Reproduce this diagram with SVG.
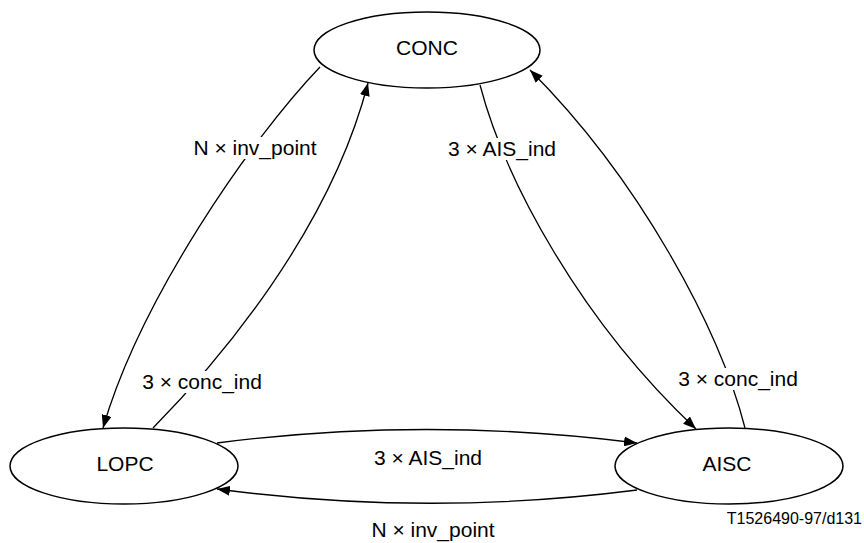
<svg xmlns="http://www.w3.org/2000/svg" width="864" height="543" viewBox="0 0 864 543">
<style>
.node{fill:#fff;stroke:#000;stroke-width:1.5}
.lbl{font-family:"Liberation Sans",Arial,sans-serif;font-size:21px;fill:#000;text-anchor:middle}
.edge{fill:none;stroke:#000;stroke-width:1.3}
.bg{fill:#fff;stroke:none}
.ref{font-family:"Liberation Sans",Arial,sans-serif;font-size:16px;fill:#000}
</style>
<defs>
<marker id="arr" markerUnits="userSpaceOnUse" markerWidth="14" markerHeight="10" refX="13" refY="5" orient="auto">
<path d="M0,0 L13,5 L0,10 Z" fill="#000"/>
</marker>
</defs>
<rect width="864" height="543" fill="#fff"/>
<g id="connectors">
<path class="edge" d="M320,67 C250,140 140,300 103,428" marker-end="url(#arr)"/>
<path class="edge" d="M153,428 C220,360 330,230 368,83" marker-end="url(#arr)"/>
<path class="edge" d="M480,85 C505,180 580,320 696,429" marker-end="url(#arr)"/>
<path class="edge" d="M745,428 C720,330 640,180 530,70" marker-end="url(#arr)"/>
<path class="edge" d="M217,443 Q427,416 637,443" marker-end="url(#arr)"/>
<path class="edge" d="M637,490 Q427,517 217,489" marker-end="url(#arr)"/>
<rect class="bg" x="191" y="137" width="128" height="22"/>
<text class="lbl" x="255" y="155">N × inv_point</text>
<rect class="bg" x="446" y="138" width="113" height="22"/>
<text class="lbl" x="502" y="156">3 × AIS_ind</text>
<rect class="bg" x="140" y="371" width="124" height="22"/>
<text class="lbl" x="202" y="389">3 × conc_ind</text>
<rect class="bg" x="676" y="368" width="124" height="22"/>
<text class="lbl" x="738" y="386">3 × conc_ind</text>
<text class="lbl" x="428" y="465">3 × AIS_ind</text>
<text class="lbl" x="433" y="537">N × inv_point</text>
</g>
<g id="CONC">
<ellipse class="node" cx="427" cy="50" rx="113" ry="38"/>
<text class="lbl" x="427" y="55">CONC</text>
</g>
<g id="LOPC">
<ellipse class="node" cx="124" cy="466" rx="114" ry="38"/>
<text class="lbl" x="125" y="471">LOPC</text>
</g>
<g id="AISC">
<ellipse class="node" cx="729" cy="466" rx="114" ry="38"/>
<text class="lbl" x="727" y="471">AISC</text>
</g>
<text class="ref" x="862" y="524" text-anchor="end">T1526490-97/d131</text>
</svg>
